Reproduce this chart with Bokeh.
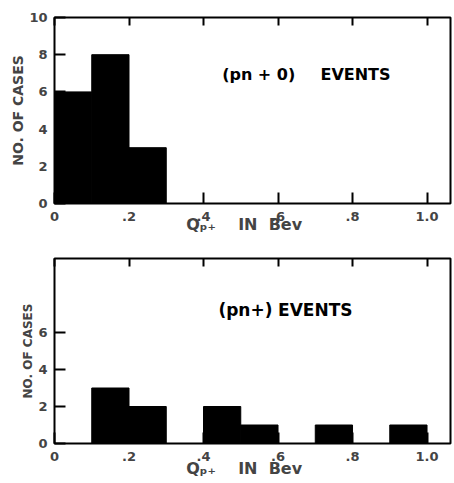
from bokeh.plotting import figure
from bokeh.layouts import column
from bokeh.models import Label, LinearAxis, FixedTicker, Range1d
from bokeh.embed import file_html
from bokeh.resources import INLINE

# ---- data ----
bin_width = 0.1
top_left = [0.0, 0.1, 0.2]
top_counts = [6, 8, 3]
bot_left = [0.1, 0.2, 0.4, 0.5, 0.7, 0.9]
bot_counts = [3, 2, 2, 1, 1, 1]
x_ticks = [0, 0.2, 0.4, 0.6, 0.8, 1.0]
x_tick_labels = ["0", ".2", ".4", ".6", ".8", "1.0"]
top_y_ticks = [0, 2, 4, 6, 8, 10]
bot_y_ticks = [0, 2, 4, 6]
top_title = ["(pn + 0)", "EVENTS"]
bot_title = ["(pn+)", "EVENTS"]
NB = "\u00a0"
x_label = "Q\u209a\u208a" + NB * 4 + "IN" + NB * 2 + "Bev" + NB * 3
y_label = "NO. OF CASES"

FONT = "DejaVu Sans"


def make_panel(lefts, counts, yticks, title, title_xs, title_y, title_size,
               height, border_top, border_bottom, ylab_size, xlab_standoff):
    p = figure(width=452, height=height,
               x_range=Range1d(0, 1.063), y_range=Range1d(0, 10),
               output_backend="svg", toolbar_location=None,
               min_border_left=54, min_border_right=2,
               min_border_top=border_top, min_border_bottom=border_bottom,
               background_fill_color="white", border_fill_color="white")
    p.grid.visible = False
    p.outline_line_color = "black"
    p.outline_line_width = 2

    rights = [l + bin_width for l in lefts]
    p.quad(left=lefts, right=rights, top=counts, bottom=0,
           fill_color="black", line_color="black", line_width=1)

    # bottom axis
    xa = p.xaxis[0]
    xa.ticker = FixedTicker(ticks=x_ticks)
    xa.major_label_overrides = {t: s for t, s in zip(x_ticks, x_tick_labels)}
    xa.axis_label = x_label
    # left axis
    ya = p.yaxis[0]
    ya.ticker = FixedTicker(ticks=yticks)
    ya.axis_label = y_label

    for ax in (xa, ya):
        ax.axis_line_color = None
        ax.major_tick_in = 11
        ax.major_tick_out = 0
        ax.major_tick_line_width = 2
        ax.minor_tick_line_color = None
        ax.major_label_text_font = FONT
        ax.major_label_text_font_style = "bold"
        ax.major_label_text_font_size = "13px"
        ax.axis_label_text_font = FONT
        ax.axis_label_text_font_style = "bold"
    xa.axis_label_text_font_size = "16px"
    ya.axis_label_text_font_size = ylab_size
    xa.major_label_standoff = 8
    xa.axis_label_standoff = xlab_standoff
    ya.major_label_standoff = 7
    ya.axis_label_standoff = 0

    # top axis: inward ticks only
    ta = LinearAxis(ticker=FixedTicker(ticks=x_ticks),
                    major_label_text_font_size="1px",
                    major_label_text_color=None, major_label_standoff=0,
                    major_tick_in=8, major_tick_out=0, major_tick_line_width=2,
                    minor_tick_line_color=None, axis_line_color=None)
    p.add_layout(ta, "above")

    for txt, tx in zip(title, title_xs):
        p.add_layout(Label(x=tx, y=title_y, text=txt, text_font=FONT,
                           text_font_style="bold", text_font_size=title_size,
                           text_baseline="middle", text_color="black"))
    return p


p1 = make_panel(top_left, top_counts, top_y_ticks, top_title, [0.45, 0.714],
                6.94, "16px", 240, 17, 37, "14px", -9)
p2 = make_panel(bot_left, bot_counts, bot_y_ticks, bot_title, [0.44, 0.60],
                7.2, "17px", 240, 18, 37, "12px", -5)

layout = column(p1, p2, spacing=0)
open("out.html", "w").write(file_html(layout, INLINE))
